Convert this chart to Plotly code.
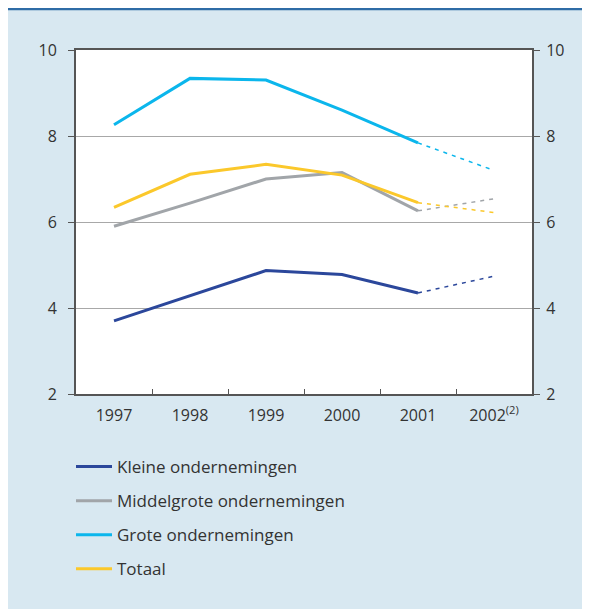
import plotly.graph_objects as go

years = ["1997", "1998", "1999", "2000", "2001", "2002<sup>(2)</sup>"]
kleine = [3.70, 4.29, 4.87, 4.78, 4.35, 4.74]
middel = [5.90, 6.44, 7.00, 7.15, 6.26, 6.54]
grote = [8.26, 9.34, 9.30, 8.60, 7.84, 7.20]
totaal = [6.34, 7.11, 7.34, 7.09, 6.45, 6.22]

names = ["Kleine ondernemingen", "Middelgrote ondernemingen", "Grote ondernemingen", "Totaal"]
colors = ["#2b479b", "#a1a5a9", "#0bb6ec", "#fbc82b"]
series = [kleine, middel, grote, totaal]

W, H = 590, 609
L, R, T, B = 68, 66, 42, 223
pw, ph = W - L - R, H - T - B

fig = go.Figure()
# invisible trace fixing category order
fig.add_trace(go.Scatter(x=years, y=totaal, mode="lines", line=dict(width=0),
                         opacity=0, showlegend=False, hoverinfo="skip"))
# dashed projections first (behind)
for n, c, s in zip(names, colors, series):
    fig.add_trace(go.Scatter(x=years[4:], y=s[4:], mode="lines",
                             line=dict(color=c, width=1.5, dash="4px,5px"),
                             showlegend=False, hoverinfo="skip"))
for i, (n, c, s) in enumerate(zip(names, colors, series)):
    fig.add_trace(go.Scatter(x=years[:5], y=s[:5], mode="lines", name=n,
                             line=dict(color=c, width=3), legendgroup=str(i)))
# invisible trace for right axis
fig.add_trace(go.Scatter(x=years, y=totaal, yaxis="y2", mode="lines",
                         line=dict(width=0), showlegend=False, hoverinfo="skip", opacity=0))

fam = "Open Sans, Noto Sans, sans-serif"
tfnt = dict(family=fam, size=16, color="#333333")
fig.update_layout(
    width=W, height=H,
    margin=dict(l=L, r=R, t=T, b=B, autoexpand=False),
    paper_bgcolor="#d8e8f1", plot_bgcolor="#ffffff",
    font=tfnt,
    xaxis=dict(type="category", categoryorder="array", categoryarray=years,
               tickson="boundaries", ticks="inside", ticklen=5,
               tickcolor="#555555", showline=True, linecolor="#555555", linewidth=2,
               mirror=True, showgrid=False, tickfont=tfnt, range=[-0.5, 5.5],
               ticklabelstandoff=6),
    yaxis=dict(range=[2, 10], tickvals=[2, 4, 6, 8, 10], ticks="outside", ticklen=6,
               tickcolor="#555555", showline=True, linecolor="#555555", linewidth=2,
               gridcolor="#a8a8a8", gridwidth=1.2, zeroline=False, tickfont=tfnt,
               ticklabelstandoff=8),
    yaxis2=dict(range=[2, 10], tickvals=[2, 4, 6, 8, 10], ticks="outside", ticklen=6,
                tickcolor="#555555", showline=True, linecolor="#555555", linewidth=2,
                overlaying="y", side="right", showgrid=False, zeroline=False, tickfont=tfnt,
                ticklabelstandoff=3),
    legend=dict(x=(63 - L) / pw, y=(T + ph - 441) / ph, xanchor="left", yanchor="top",
                bgcolor="rgba(0,0,0,0)", font=dict(family=fam, size=17, color="#333333"),
                tracegroupgap=9, traceorder="grouped", itemwidth=36),
    showlegend=True,
)
fig.add_shape(type="line", xref="paper", yref="paper",
              x0=-L / pw, x1=(W - L) / pw, y0=(H - B - 1) / ph, y1=(H - B - 1) / ph,
              line=dict(color="#2f6ca6", width=2.5))
fig.write_html("out.html")
